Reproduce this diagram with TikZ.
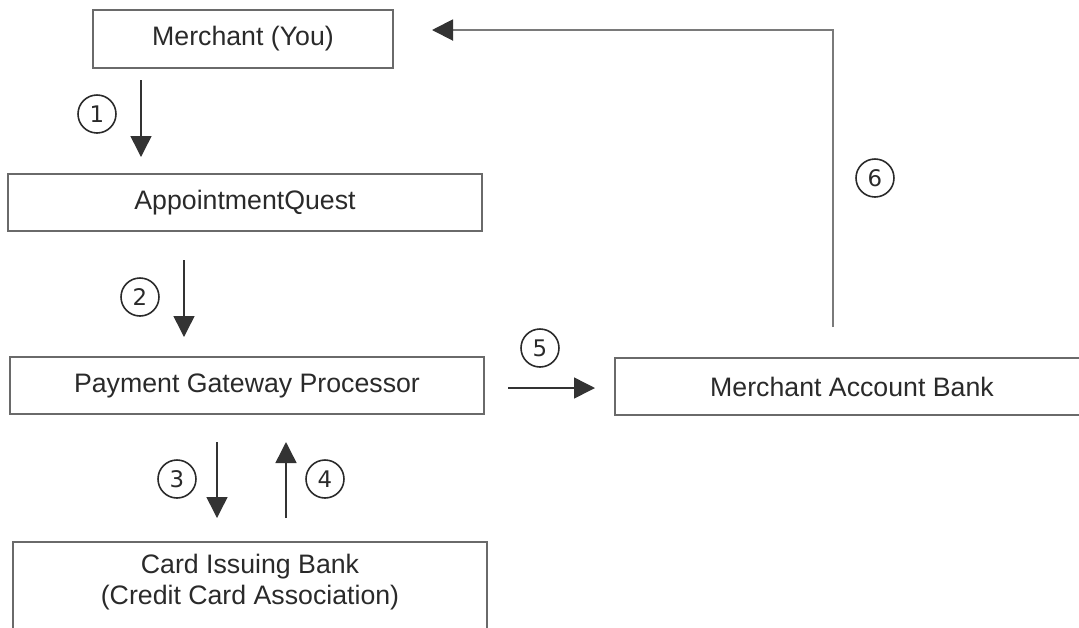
\documentclass[tikz,border=0pt]{standalone}
\usepackage{fontspec}
\setmainfont{Liberation Sans}
\newfontfamily\numfont{DejaVu Sans}
\usetikzlibrary{arrows.meta}
\definecolor{boxgray}{HTML}{6A6A6A}
\definecolor{arrowdark}{HTML}{333333}
\definecolor{returngray}{HTML}{7A7A7A}
\definecolor{textdark}{HTML}{2A2A2A}

\begin{document}
\begin{tikzpicture}[x=0.02cm, y=-0.02cm, >={Triangle[length=0.42cm,width=0.42cm]}]
\useasboundingbox (0,0) rectangle (1079,627);

\begin{scope}[every node/.style={draw=boxgray, line width=1.1pt, inner sep=0pt, text=textdark,
        minimum height=1.15cm, font=\fontsize{15.2}{17.6}\selectfont}]
    \node[minimum width=6cm]    (merchant) at (243,39)    {Merchant (You)};
    \node[minimum width=9.48cm] (aq)       at (245,202.5) {AppointmentQuest};
    \node[minimum width=9.48cm] (pgp)      at (247,385.5) {Payment Gateway Processor};
    \node[minimum width=9.48cm] (mab)      at (852,386.5) {Merchant Account Bank};
    \node[minimum width=9.48cm, minimum height=2.4cm, anchor=north] (card) at (250,541) {};
\end{scope}

\node[align=center, text=textdark, font=\fontsize{15.2}{17.6}\selectfont] (cardtext) at (250,582)
    {Card Issuing Bank\\(Credit Card Association)};

\begin{scope}[every node/.style={circle, draw=textdark, line width=0.9pt, minimum size=0.76cm,
        inner sep=0pt, text=textdark, font=\numfont\fontsize{13}{14}\selectfont}]
    \node (n1) at (97,114)  {1};
    \node (n2) at (140,297) {2};
    \node (n3) at (177,479) {3};
    \node (n4) at (325,479) {4};
    \node (n5) at (540,348) {5};
    \node (n6) at (875,178) {6};
\end{scope}

% arrow ends
\coordinate (a1s) at (141,80);
\coordinate (a1e) at (141,157);
\coordinate (a2s) at (184,260);
\coordinate (a2e) at (184,337);
\coordinate (a3s) at (217,442);
\coordinate (a3e) at (217,518);
\coordinate (a4s) at (286,518);
\coordinate (a4e) at (286,442);
\coordinate (a5s) at (508,388);
\coordinate (a5e) at (595,388);
\coordinate (a6s) at (833,327);
\coordinate (a6c) at (833,30);
\coordinate (a6e) at (432,30);

\begin{scope}[line width=0.85pt, draw=arrowdark, arrowdark]
    \path [->] (a1s) edge (a1e);
    \path [->] (a2s) edge (a2e);
    \path [->] (a3s) edge (a3e);
    \path [->] (a4s) edge (a4e);
    \path [->] (a5s) edge (a5e);
\end{scope}

\draw [line width=1.1pt, returngray, arrows={-Triangle[length=0.42cm,width=0.42cm,color=arrowdark]}]
    (a6s) -- (a6c) -- (a6e);
\end{tikzpicture}
\end{document}
